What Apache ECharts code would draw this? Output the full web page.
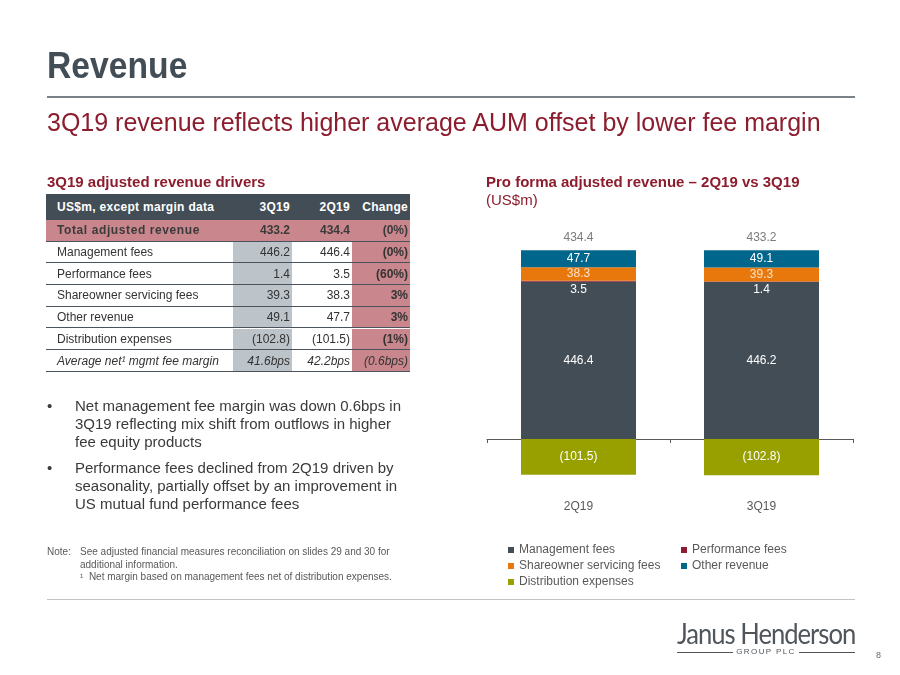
<!DOCTYPE html>
<html>
<head>
<meta charset="utf-8">
<script src="https://cdn.jsdelivr.net/npm/echarts@6/dist/echarts.min.js"></script>
<style>
  html, body { margin:0; padding:0; background:#fff; }
  body { width:900px; height:675px; position:relative; overflow:hidden; font-family:"Liberation Sans", Arial, sans-serif; }
  #chart { position:absolute; left:0; top:0; width:900px; height:675px; }
  .abs { position:absolute; white-space:nowrap; }
  .title { left:47px; top:47px; font-size:37px; line-height:37px; font-weight:bold; color:#434d55; transform:scaleX(0.91); transform-origin:left top; }
  .rule { left:47px; width:808px; }
  .subtitle { left:47px; top:110px; font-size:25px; line-height:25px; color:#8c1d2e; }
  .sect { font-size:15px; line-height:15px; font-weight:bold; color:#8c1d2e; }
  .tbl { position:absolute; left:46px; width:364px; font-size:12px; color:#333; }
  .row { position:absolute; left:0; width:364px; display:flex; box-sizing:border-box; }
  .cell { box-sizing:border-box; height:100%; display:flex; align-items:center; }
  .c0 { width:187px; padding-left:11px; }
  .c1 { width:59px; justify-content:flex-end; padding-right:2px; }
  .c2 { width:60px; justify-content:flex-end; padding-right:2px; }
  .c3 { width:58px; justify-content:flex-end; padding-right:2px; }
  .bul { left:47px; font-size:15px; line-height:18px; color:#3a3a3a; }
  .bul .dot { position:absolute; left:0; top:0; }
  .bul .txt { position:absolute; left:28px; top:0; }
  .note { font-size:10px; line-height:12.5px; color:#595959; }
</style>
</head>
<body>
<div id="chart"></div>

<div class="abs title">Revenue</div>
<div class="abs rule" style="top:96px;height:2px;background:#7a8288;"></div>
<div class="abs subtitle">3Q19 revenue reflects higher average AUM offset by lower fee margin</div>

<div class="abs sect" style="left:47px;top:174px;">3Q19 adjusted revenue drivers</div>
<div class="abs sect" style="left:486px;top:174px;">Pro forma adjusted revenue – 2Q19 vs 3Q19</div>
<div class="abs sect" style="left:486px;top:192px;font-weight:normal;">(US$m)</div>

<div id="table" class="tbl" style="top:194px;"></div>

<div class="abs bul" style="top:397px;">
  <span class="dot">•</span>
  <span class="txt">Net management fee margin was down 0.6bps in<br>3Q19 reflecting mix shift from outflows in higher<br>fee equity products</span>
</div>
<div class="abs bul" style="top:459px;">
  <span class="dot">•</span>
  <span class="txt">Performance fees declined from 2Q19 driven by<br>seasonality, partially offset by an improvement in<br>US mutual fund performance fees</span>
</div>

<div class="abs note" style="left:47px;top:546px;">Note:</div>
<div class="abs note" style="left:80px;top:546px;">See adjusted financial measures reconciliation on slides 29 and 30 for<br>additional information.<br>¹&nbsp; Net margin based on management fees net of distribution expenses.</div>

<div class="abs rule" style="top:599px;height:1px;background:#c4c4c4;"></div>

<div class="abs" style="left:677px;top:619px;font-family:Lato, sans-serif;font-size:28px;line-height:28px;color:#50565c;letter-spacing:-1.1px;transform:scaleX(0.915);transform-origin:left top;">Janus Henderson</div>
<div class="abs" style="left:677px;top:652px;width:56px;height:1px;background:#50565c;"></div>
<div class="abs" style="left:799px;top:652px;width:56px;height:1px;background:#50565c;"></div>
<div class="abs" style="left:733px;top:647px;width:66px;text-align:center;font-size:8px;line-height:10px;letter-spacing:1.4px;color:#50565c;">GROUP PLC</div>
<div class="abs" style="left:876px;top:650px;font-size:9px;line-height:10px;color:#666;">8</div>

<script>
// ---- Data ----
var categories   = ['2Q19', '3Q19'];
var management   = [446.4, 446.2];
var performance  = [3.5, 1.4];
var shareowner   = [38.3, 39.3];
var otherRevenue = [47.7, 49.1];
var distribution = [-101.5, -102.8];
var totals       = [434.4, 433.2];

var tableHeader = ['US$m, except margin data', '3Q19', '2Q19', 'Change'];
var tableRows = [
  ['Total adjusted revenue', '433.2', '434.4', '(0%)'],
  ['Management fees', '446.2', '446.4', '(0%)'],
  ['Performance fees', '1.4', '3.5', '(60%)'],
  ['Shareowner servicing fees', '39.3', '38.3', '3%'],
  ['Other revenue', '49.1', '47.7', '3%'],
  ['Distribution expenses', '(102.8)', '(101.5)', '(1%)'],
  ['Average net¹ mgmt fee margin', '41.6bps', '42.2bps', '(0.6bps)']
];

// ---- Table (HTML) ----
(function () {
  var t = document.getElementById('table');
  var PINK = '#c9878d', GRAY = '#bcc4ca', HEAD = '#434d55', LINE = '#4a535b';
  var html = '';
  html += '<div class="row" style="top:0;height:26px;background:' + HEAD + ';color:#fff;font-weight:bold;letter-spacing:0.3px;">';
  for (var c = 0; c < 4; c++) html += '<div class="cell c' + c + '">' + tableHeader[c] + '</div>';
  html += '</div>';
  var rh = 21.7;
  for (var r = 0; r < tableRows.length; r++) {
    var top = 26 + r * rh;
    var isTotal = r === 0, isLast = r === tableRows.length - 1;
    var rowStyle = 'top:' + top + 'px;height:' + rh + 'px;border-bottom:1.5px solid ' + LINE + ';';
    if (isTotal) rowStyle += 'background:' + PINK + ';font-weight:bold;color:#3a3a3a;';
    if (isLast) rowStyle += 'font-style:italic;';
    html += '<div class="row" style="' + rowStyle + '">';
    for (var c2 = 0; c2 < 4; c2++) {
      var st = '';
      if (!isTotal && c2 === 1) st += 'background:' + GRAY + ';';
      if (!isTotal && c2 === 3) st += 'background:' + PINK + ';' + (isLast ? '' : 'font-weight:bold;');
      if (isTotal && c2 === 0) st += 'letter-spacing:0.6px;';
      html += '<div class="cell c' + c2 + '" style="' + st + '">' + tableRows[r][c2] + '</div>';
    }
    html += '</div>';
  }
  t.innerHTML = html;
})();

// ---- Chart ----
var FONT = '"Liberation Sans", Arial, sans-serif';
var chart = echarts.init(document.getElementById('chart'), null, { renderer: 'canvas' });

function fmt(v) { return Math.abs(v).toFixed(1); }
var stackTop = categories.map(function (_, i) {
  return management[i] + performance[i] + shareowner[i] + otherRevenue[i];
});

var barW = 115;
var baseLabel = { show: true, color: '#ffffff', fontSize: 12, fontFamily: FONT };
var legendText = { color: '#595959', fontSize: 12, fontFamily: FONT, lineHeight: 14 };

chart.setOption({
  animation: false,
  grid: { left: 487, right: 47, top: 227.8, bottom: 183.2 },
  xAxis: {
    type: 'category',
    data: categories,
    axisLine: { show: true, onZero: true, lineStyle: { color: '#595959', width: 1 } },
    axisTick: { show: true, length: 4, alignWithLabel: false, lineStyle: { color: '#595959' } },
    axisLabel: { margin: 9, color: '#595959', fontSize: 12, fontFamily: FONT },
    splitLine: { show: false }
  },
  yAxis: { type: 'value', min: -150, max: 600, show: false, splitLine: { show: false } },
  legend: [
    {
      left: 508, top: 543, padding: 0, orient: 'vertical', itemWidth: 6, itemHeight: 6, itemGap: 2,
      icon: 'rect', textStyle: legendText,
      data: ['Management fees', 'Shareowner servicing fees', 'Distribution expenses']
    },
    {
      left: 681, top: 543, padding: 0, orient: 'vertical', itemWidth: 6, itemHeight: 6, itemGap: 2,
      icon: 'rect', textStyle: legendText,
      data: ['Performance fees', 'Other revenue']
    }
  ],
  series: [
    {
      name: 'Management fees', type: 'bar', stack: 'rev', barWidth: barW,
      data: management, itemStyle: { color: '#434d55' },
      label: Object.assign({}, baseLabel, { position: 'inside', formatter: function (p) { return fmt(p.value); } })
    },
    {
      name: 'Performance fees', type: 'bar', stack: 'rev', barWidth: barW,
      data: performance, itemStyle: { color: '#8c1d2e' },
      label: Object.assign({}, baseLabel, { position: 'bottom', distance: 2, formatter: function (p) { return fmt(p.value); } })
    },
    {
      name: 'Shareowner servicing fees', type: 'bar', stack: 'rev', barWidth: barW,
      data: shareowner, itemStyle: { color: '#e8780c' },
      label: Object.assign({}, baseLabel, { position: 'inside', color: '#fde0c4', formatter: function (p) { return fmt(p.value); } })
    },
    {
      name: 'Other revenue', type: 'bar', stack: 'rev', barWidth: barW,
      data: otherRevenue, itemStyle: { color: '#00668b' },
      label: Object.assign({}, baseLabel, { position: 'inside', formatter: function (p) { return fmt(p.value); } })
    },
    {
      name: 'Distribution expenses', type: 'bar', stack: 'rev', barWidth: barW,
      data: distribution, itemStyle: { color: '#98a000' },
      label: Object.assign({}, baseLabel, { position: 'inside', formatter: function (p) { return '(' + fmt(p.value) + ')'; } })
    },
    {
      name: 'Total', type: 'scatter', data: stackTop, symbolSize: 1,
      itemStyle: { color: 'rgba(0,0,0,0)' }, silent: true,
      label: { show: true, position: 'top', distance: 6, color: '#595959', fontSize: 12, fontFamily: FONT,
        formatter: function (p) { return totals[p.dataIndex].toFixed(1); } }
    }
  ]
});
</script>
</body>
</html>
